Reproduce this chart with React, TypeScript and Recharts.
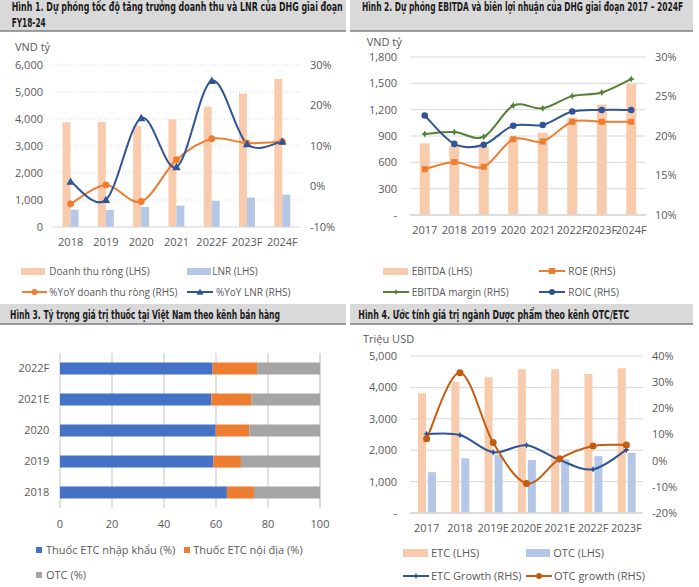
import React from 'react'
import { ComposedChart, BarChart, Bar, Line, XAxis, YAxis, CartesianGrid } from 'recharts'

// Hình 1
const years1 = ['2018', '2019', '2020', '2021', '2022F', '2023F', '2024F']
const revenue1 = [3880, 3890, 3745, 3990, 4460, 4940, 5480]
const profit1 = [640, 630, 740, 790, 970, 1090, 1200]
const revenueYoY1 = [-4.3, 0.4, -3.7, 6.6, 11.8, 10.7, 11.1]
const profitYoY1 = [1.2, -3.3, 16.9, 4.8, 26.1, 10.5, 11.1]

// Hình 2
const years2 = ['2017', '2018', '2019', '2020', '2021', '2022F', '2023F', '2024F']
const ebitda2 = [816, 789, 778, 885, 938, 1109, 1258, 1495]
const roe2 = [15.8, 16.7, 16.1, 19.6, 19.3, 21.8, 21.8, 21.8]
const ebitdaMargin2 = [20.25, 20.5, 19.9, 23.85, 23.5, 25.05, 25.5, 27.2]
const roic2 = [22.6, 19.0, 18.9, 21.3, 21.4, 23.1, 23.3, 23.3]

// Hình 3
const years3 = ['2018', '2019', '2020', '2021E', '2022F']
const etcImport3 = [64.2, 59.0, 59.9, 58.2, 58.7]
const etcDomestic3 = [10.4, 10.6, 12.9, 15.5, 17.1]
const otc3 = [25.4, 30.4, 27.2, 26.3, 24.2]

// Hình 4
const years4 = ['2017', '2018', '2019E', '2020E', '2021E', '2022F', '2023F']
const etc4 = [3810, 4180, 4320, 4580, 4580, 4430, 4610]
const otc4 = [1300, 1740, 1850, 1690, 1710, 1810, 1910]
const etcGrowth4 = [10.2, 9.8, 3.2, 5.9, 0.2, -3.3, 4.1]
const otcGrowth4 = [8.4, 33.6, 6.9, -8.7, 0.75, 5.6, 6.0]

const ticks1L = [0, 1000, 2000, 3000, 4000, 5000, 6000]
const ticks1R = [-10, 0, 10, 20, 30]
const ticks2L = [0, 300, 600, 900, 1200, 1500, 1800]
const ticks2R = [10, 15, 20, 25, 30]
const ticks3 = [0, 20, 40, 60, 80, 100]
const ticks4L = [0, 1000, 2000, 3000, 4000, 5000]
const ticks4R = [-20, -10, 0, 10, 20, 30, 40]

const FONT = '"Open Sans", "Segoe UI", sans-serif'
const HEAD_FONT = '"Liberation Sans Narrow", "DejaVu Sans Condensed", "Open Sans", sans-serif'
const TICK = { fill: '#595959', fontSize: 11, fontFamily: FONT }
const GRID = '#D9D9D9'

const PEACH = '#F8CBAD'
const LIGHT_BLUE = '#B4C7E7'
const ORANGE = '#ED7D31'
const DARK_ORANGE = '#C55A11'
const NAVY = '#2F5597'
const GREEN = '#548235'

const comma = (v: number) => v.toLocaleString('en-US')
const dashZero = (v: number) => (v === 0 ? '-' : v.toLocaleString('en-US'))
const pct = (v: number) => `${v}%`

// Excel-style smoothed line (bezier through each point)
const smoothCurve: any = (context: any) => {
  let pts: number[][] = []
  return {
    areaStart() {},
    areaEnd() {},
    lineStart() {
      pts = []
    },
    point(x: number, y: number) {
      pts.push([+x, +y])
    },
    lineEnd() {
      const n = pts.length
      if (!n) return
      context.moveTo(pts[0][0], pts[0][1])
      for (let i = 0; i < n - 1; i++) {
        const p0 = pts[Math.max(i - 1, 0)]
        const p1 = pts[i]
        const p2 = pts[i + 1]
        const p3 = pts[Math.min(i + 2, n - 1)]
        context.bezierCurveTo(
          p1[0] + (p2[0] - p0[0]) / 6,
          p1[1] + (p2[1] - p0[1]) / 6,
          p2[0] - (p3[0] - p1[0]) / 6,
          p2[1] - (p3[1] - p1[1]) / 6,
          p2[0],
          p2[1]
        )
      }
    },
  }
}

type Shape = 'circle' | 'triangle' | 'square' | 'star'

function Marker({ shape, cx, cy, color, size }: { shape: Shape; cx: number; cy: number; color: string; size: number }) {
  if (shape === 'circle') return <circle cx={cx} cy={cy} r={size} fill={color} />
  if (shape === 'square') return <rect x={cx - size} y={cy - size} width={size * 2} height={size * 2} fill={color} />
  if (shape === 'triangle') {
    return <polygon points={`${cx},${cy - size} ${cx + size},${cy + size * 0.75} ${cx - size},${cy + size * 0.75}`} fill={color} />
  }
  const s = size
  const k = size * 0.35
  return (
    <polygon
      points={`${cx},${cy - s} ${cx + k},${cy - k} ${cx + s},${cy} ${cx + k},${cy + k} ${cx},${cy + s} ${cx - k},${cy + k} ${cx - s},${cy} ${cx - k},${cy - k}`}
      fill={color}
    />
  )
}

const dot = (shape: Shape, color: string, size: number) => (props: any) => {
  const { cx, cy, index } = props
  if (cx == null || cy == null) return <g key={`d${index}`} />
  return <Marker key={`d${index}`} shape={shape} cx={cx} cy={cy} color={color} size={size} />
}

function BarSwatch({ x, y, w, h, color }: any) {
  return <div style={{ position: 'absolute', left: x, top: y - h / 2, width: w, height: h, background: color }} />
}

function LineSwatch({ x, y, w, color, shape, size }: any) {
  return (
    <svg style={{ position: 'absolute', left: x, top: y - 6 }} width={w} height={12}>
      <line x1={0} y1={6} x2={w} y2={6} stroke={color} strokeWidth={2} />
      <Marker shape={shape} cx={w / 2} cy={6} color={color} size={size} />
    </svg>
  )
}

function Label({ x, y, text, size = 10 }: any) {
  return (
    <div style={{ position: 'absolute', left: x, top: y - 9, height: 18, lineHeight: '18px', fontSize: size, color: '#595959', whiteSpace: 'nowrap' }}>
      {text}
    </div>
  )
}

function Headers() {
  const bands = [
    { x: 0, y: 0, w: 346, h: 31 },
    { x: 350, y: 0, w: 343, h: 31 },
    { x: 0, y: 304, w: 346, h: 20 },
    { x: 350, y: 304, w: 343, h: 20 },
  ]
  const texts = [
    { x: 11.7, y: 11, len: 331, t: 'Hình 1. Dự phóng tốc độ tăng trưởng doanh thu và LNR của DHG giai đoạn' },
    { x: 11.7, y: 27, len: 34, t: 'FY18-24' },
    { x: 362, y: 11, len: 321, t: 'Hình 2. Dự phóng EBITDA và biên lợi nhuận của DHG giai đoạn 2017 – 2024F' },
    { x: 10, y: 319, len: 270, t: 'Hình 3. Tỷ trọng giá trị thuốc tại Việt Nam theo kênh bán hàng' },
    { x: 358.3, y: 319, len: 271, t: 'Hình 4. Ước tính giá trị ngành Dược phẩm theo kênh OTC/ETC' },
  ]
  return (
    <svg style={{ position: 'absolute', left: 0, top: 0 }} width={699} height={587}>
      {bands.map((b, i) => (
        <g key={i}>
          <rect x={b.x} y={b.y} width={b.w} height={b.h} fill="#D9D9D9" />
          <line x1={b.x} y1={b.y + b.h} x2={b.x + b.w} y2={b.y + b.h} stroke="#7F7F7F" strokeWidth={1.5} />
        </g>
      ))}
      {texts.map((t, i) => (
        <text key={i} x={t.x} y={t.y} textLength={t.len} lengthAdjust="spacingAndGlyphs" fontFamily={HEAD_FONT} fontWeight="bold" fontSize={11.5} fill="#1a1a1a">
          {t.t}
        </text>
      ))}
    </svg>
  )
}

export default function App() {
  const data1 = years1.map((year, i) => ({
    year,
    revenue: revenue1[i],
    profit: profit1[i],
    revenueYoY: revenueYoY1[i],
    profitYoY: profitYoY1[i],
  }))
  const data2 = years2.map((year, i) => ({
    year,
    ebitda: ebitda2[i],
    roe: roe2[i],
    margin: ebitdaMargin2[i],
    roic: roic2[i],
  }))
  const data3 = years3.map((year, i) => ({
    year,
    etcImport: etcImport3[i],
    etcDomestic: etcDomestic3[i],
    otc: otc3[i],
  }))
  const data4 = years4.map((year, i) => ({
    year,
    etc: etc4[i],
    otc: otc4[i],
    etcGrowth: etcGrowth4[i],
    otcGrowth: otcGrowth4[i],
  }))

  return (
    <div style={{ position: 'absolute', left: 0, top: 0, width: 699, height: 587, background: '#fff', fontFamily: FONT, overflow: 'hidden' }}>
      <Headers />

      {/* Hình 1 */}
      <Label x={15} y={46.7} text="VND tỷ" size={11} />
      <div style={{ position: 'absolute', left: 0, top: 0 }}>
        <ComposedChart width={350} height={255} data={data1} margin={{ top: 65, right: 5, bottom: 8, left: 0 }} barCategoryGap="27%" barGap={0}>
          <CartesianGrid vertical={false} stroke={GRID} strokeDasharray="1 2" />
          <XAxis dataKey="year" height={20} interval={0} tick={TICK} tickLine={false} axisLine={{ stroke: GRID }} tickMargin={5} />
          <YAxis width={53} domain={[0, 6000]} ticks={ticks1L} tickFormatter={comma} tick={TICK} tickLine={false} axisLine={false} tickMargin={4} />
          <YAxis yAxisId="r" orientation="right" width={45} domain={[-10, 30]} ticks={ticks1R} tickFormatter={pct} tick={TICK} tickLine={false} axisLine={false} tickMargin={4} />
          <Bar dataKey="revenue" fill={PEACH} isAnimationActive={false} />
          <Bar dataKey="profit" fill={LIGHT_BLUE} isAnimationActive={false} />
          <Line yAxisId="r" dataKey="revenueYoY" type={smoothCurve} stroke={ORANGE} strokeWidth={2} dot={dot('circle', ORANGE, 3.4)} activeDot={false} isAnimationActive={false} />
          <Line yAxisId="r" dataKey="profitYoY" type={smoothCurve} stroke={NAVY} strokeWidth={2} dot={dot('triangle', NAVY, 4.2)} activeDot={false} isAnimationActive={false} />
        </ComposedChart>
      </div>
      <BarSwatch x={20.7} y={271} w={24} h={7} color={PEACH} />
      <Label x={49.3} y={271} text="Doanh thu ròng (LHS)" />
      <BarSwatch x={186.7} y={271} w={24} h={7} color={LIGHT_BLUE} />
      <Label x={212.3} y={271} text="LNR (LHS)" />
      <LineSwatch x={21.7} y={292} w={25} color={ORANGE} shape="circle" size={3} />
      <Label x={49.3} y={292} text="%YoY doanh thu ròng (RHS)" />
      <LineSwatch x={186.7} y={292} w={26} color={NAVY} shape="triangle" size={3.5} />
      <Label x={216} y={292} text="%YoY LNR (RHS)" />

      {/* Hình 2 */}
      <Label x={366.7} y={41.7} text="VND tỷ" size={11} />
      <div style={{ position: 'absolute', left: 350, top: 0 }}>
        <ComposedChart width={345} height={245} data={data2} margin={{ top: 57, right: 4, bottom: 10, left: 0 }} barCategoryGap="33%">
          <CartesianGrid vertical={false} stroke={GRID} />
          <XAxis dataKey="year" height={20} interval={0} tick={TICK} tickLine={false} axisLine={{ stroke: GRID, strokeWidth: 1.5 }} tickMargin={5.5} />
          <YAxis width={60} domain={[0, 1800]} ticks={ticks2L} tickFormatter={dashZero} tick={TICK} tickLine={false} axisLine={false} tickMargin={7} />
          <YAxis yAxisId="r" orientation="right" width={45} domain={[10, 30]} ticks={ticks2R} tickFormatter={pct} tick={TICK} tickLine={false} axisLine={false} tickMargin={3} />
          <Bar dataKey="ebitda" fill={PEACH} isAnimationActive={false} />
          <Line yAxisId="r" dataKey="roe" type={smoothCurve} stroke={ORANGE} strokeWidth={2} dot={dot('square', ORANGE, 3)} activeDot={false} isAnimationActive={false} />
          <Line yAxisId="r" dataKey="margin" type={smoothCurve} stroke={GREEN} strokeWidth={2} dot={dot('star', GREEN, 3.5)} activeDot={false} isAnimationActive={false} />
          <Line yAxisId="r" dataKey="roic" type={smoothCurve} stroke={NAVY} strokeWidth={2} dot={dot('circle', NAVY, 3.3)} activeDot={false} isAnimationActive={false} />
        </ComposedChart>
      </div>
      <BarSwatch x={383} y={271} w={25} h={7} color={PEACH} />
      <Label x={411.7} y={271} text="EBITDA (LHS)" />
      <LineSwatch x={539} y={271} w={26} color={ORANGE} shape="square" size={3} />
      <Label x={568.3} y={271} text="ROE (RHS)" />
      <LineSwatch x={383} y={292} w={26} color={GREEN} shape="star" size={3} />
      <Label x={411.7} y={292} text="EBITDA margin (RHS)" />
      <LineSwatch x={539} y={292} w={26} color={NAVY} shape="circle" size={3} />
      <Label x={568.3} y={292} text="ROIC (RHS)" />

      {/* Hình 3 */}
      <div style={{ position: 'absolute', left: 0, top: 300 }}>
        <BarChart layout="vertical" width={350} height={240} data={data3} margin={{ top: 53, right: 30, bottom: 12, left: 0 }} barCategoryGap="31%">
          <CartesianGrid horizontal={false} stroke={GRID} strokeWidth={1.5} />
          <XAxis type="number" height={20} domain={[0, 100]} ticks={ticks3} tick={TICK} tickLine={false} axisLine={false} tickMargin={6.5} />
          <YAxis type="category" dataKey="year" reversed width={60} tick={TICK} tickLine={false} axisLine={false} tickMargin={4.7} />
          <Bar dataKey="etcImport" stackId="s" fill="#4472C4" isAnimationActive={false} />
          <Bar dataKey="etcDomestic" stackId="s" fill={ORANGE} isAnimationActive={false} />
          <Bar dataKey="otc" stackId="s" fill="#A5A5A5" isAnimationActive={false} />
        </BarChart>
      </div>
      <BarSwatch x={36} y={550} w={6} h={6} color="#4472C4" />
      <Label x={46} y={550} text="Thuốc ETC nhập khẩu (%)" size={11} />
      <BarSwatch x={184.3} y={550} w={6} h={6} color={ORANGE} />
      <Label x={193.3} y={550} text="Thuốc ETC nội địa (%)" size={11} />
      <BarSwatch x={36} y={575.3} w={6} h={6} color="#A5A5A5" />
      <Label x={46} y={575.3} text="OTC (%)" size={11} />

      {/* Hình 4 */}
      <Label x={363} y={339} text="Triệu USD" size={11} />
      <div style={{ position: 'absolute', left: 350, top: 300 }}>
        <ComposedChart width={345} height={245} data={data4} margin={{ top: 56, right: 7, bottom: 12, left: 0 }} barCategoryGap="24%" barGap={2}>
          <CartesianGrid vertical={false} stroke={GRID} />
          <XAxis dataKey="year" height={20} interval={0} tick={TICK} tickLine={false} axisLine={{ stroke: GRID, strokeWidth: 1.5 }} tickMargin={5.5} />
          <YAxis width={60} domain={[0, 5000]} ticks={ticks4L} tickFormatter={dashZero} tick={TICK} tickLine={false} axisLine={false} tickMargin={7} />
          <YAxis yAxisId="r" orientation="right" width={45} domain={[-20, 40]} ticks={ticks4R} tickFormatter={pct} tick={TICK} tickLine={false} axisLine={false} tickMargin={3} />
          <Bar dataKey="etc" fill={PEACH} isAnimationActive={false} />
          <Bar dataKey="otc" fill={LIGHT_BLUE} isAnimationActive={false} />
          <Line yAxisId="r" dataKey="etcGrowth" type={smoothCurve} stroke={NAVY} strokeWidth={2} dot={dot('star', NAVY, 3.2)} activeDot={false} isAnimationActive={false} />
          <Line yAxisId="r" dataKey="otcGrowth" type={smoothCurve} stroke={DARK_ORANGE} strokeWidth={2} dot={dot('circle', DARK_ORANGE, 3.5)} activeDot={false} isAnimationActive={false} />
        </ComposedChart>
      </div>
      <BarSwatch x={403} y={553.3} w={25} h={8} color={PEACH} />
      <Label x={431} y={553.3} text="ETC (LHS)" size={11} />
      <BarSwatch x={526} y={553.3} w={24} h={8} color={LIGHT_BLUE} />
      <Label x={553.3} y={553.3} text="OTC (LHS)" size={11} />
      <LineSwatch x={403} y={576} w={26} color={NAVY} shape="star" size={3} />
      <Label x={431} y={576} text="ETC Growth (RHS)" size={11} />
      <LineSwatch x={526} y={576} w={26} color={DARK_ORANGE} shape="circle" size={3} />
      <Label x={554} y={576} text="OTC growth (RHS)" size={11} />
    </div>
  )
}
